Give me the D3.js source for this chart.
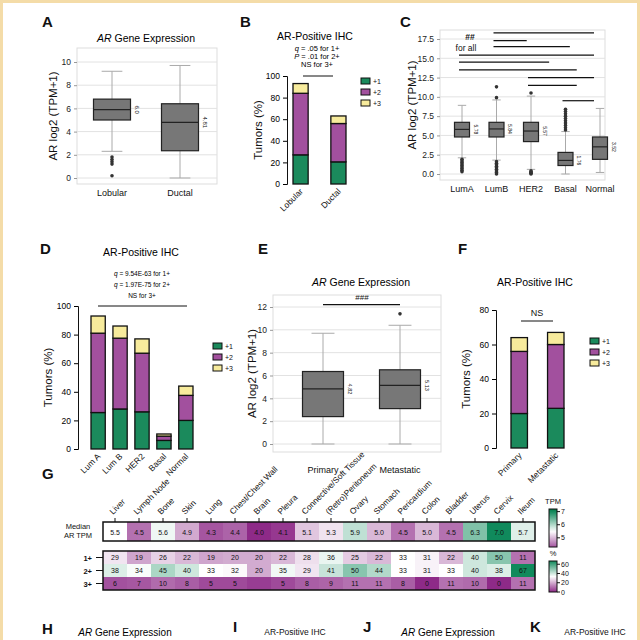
<!DOCTYPE html><html><head><meta charset="utf-8">
<script src="https://cdn.jsdelivr.net/npm/d3@7/dist/d3.min.js"></script>
<style>body{margin:0;background:#fff}svg{font-family:"Liberation Sans",Arial,sans-serif}</style></head><body>
<svg id="c" width="640" height="640"></svg>
<script>
// ---- data ----
const aCats=["Lobular","Ductal"];
const aStats=[{lo:2.3,q1:5.0,med:5.9,q3:6.8,hi:9.2,out:[0.2,1.2,1.4,1.6,1.8],lab:"6.0"},
              {lo:0,q1:2.35,med:4.8,q3:6.4,hi:9.7,out:[],lab:"4.81"}];
const bCats=["Lobular","Ductal"];
const b1=[27,20.5], b2=[57,35.5], b3=[9,7];
const cCats=["LumA","LumB","HER2","Basal","Normal"];
const cStats=[
 {lo:2.1,q1:4.8,med:5.78,q3:6.7,hi:8.9,out:[0.3,0.5,0.7,0.9,1.1,1.3,1.5,1.7,1.9],lab:"5.78"},
 {lo:1.8,q1:4.8,med:5.84,q3:6.7,hi:9.6,out:[0,0.2,0.4,0.6,0.8,1.0,1.2,1.4,1.6,9.9,11.3],lab:"5.84"},
 {lo:0.6,q1:4.2,med:5.57,q3:6.7,hi:10.1,out:[0,0.1,0.2,0.3,0.4,10.5],lab:"5.57"},
 {lo:0,q1:1.1,med:1.76,q3:2.8,hi:5.5,out:[5.7,6.0,6.3,6.6,6.9,7.2,7.5,7.8,8.1,8.4],lab:"1.76"},
 {lo:0.2,q1:1.9,med:3.52,q3:4.8,hi:8.5,out:[],lab:"3.52"}];
const cSig=[[1,4,18.3],[1,2.05,17.3],[1,3.3,16.5],[0,4,15.4],[0,2.7,14.5],[0,3.5,13.5],[2,4,12.5],[2,3.5,11.5],[3,4,9.5]];
const dCats=["Lum A","Lum B","HER2","Basal","Normal"];
const d1=[25.5,28,26,6,20], d2=[55.5,49.5,41,3,17.5], d3v=[12,8.5,10,1.5,6.5];
const eCats=["Primary","Metastatic"];
const eStats=[{lo:0,q1:2.4,med:4.82,q3:6.35,hi:9.7,out:[],lab:"4.82"},
              {lo:0,q1:3.1,med:5.13,q3:6.5,hi:10.4,out:[11.4],lab:"5.13"}];
const fCats=["Primary","Metastatic"];
const f1=[20,23], f2=[36,37], f3=[8,7];
const sites=["Liver","Lymph Node","Bone","Skin","Lung","Chest/Chest Wall","Brain","Pleura","Connective/Soft Tissue","(Retro)Peritoneum","Ovary","Stomach","Pericardium","Colon","Bladder","Uterus","Cervix","Ileum"];
const tpm=[5.5,4.5,5.6,4.9,4.3,4.4,4.0,4.1,5.1,5.3,5.9,5.0,4.5,5.0,4.5,6.3,7.0,5.7];
const pRows=["1+","2+","3+"];
const p1=[29,19,26,22,19,20,20,22,28,36,25,22,33,31,22,40,50,11];
const p2=[38,34,45,40,33,32,20,35,29,41,50,44,33,31,33,40,38,67];
const p3=[6,7,10,8,5,5,null,5,8,9,11,11,8,0,11,10,0,11];
const legendKeys=["+1","+2","+3"];

const GC="#1b8a5c",PC="#a2509e",YC="#f7eb9c";
const svg=d3.select("#c");
svg.append("rect").attr("x",1.5).attr("y",1.5).attr("width",637).attr("height",700).attr("fill","none").attr("stroke","#f4dca8").attr("stroke-width",3);

function txt(x,y,s,o={}){const t=svg.append("text").attr("x",x).attr("y",y).attr("font-size",o.fs||10).attr("text-anchor",o.a||"middle").attr("font-weight",o.fw||"normal").attr("fill",o.c||"#111");if(o.r!=null)t.attr("transform",`rotate(${o.r},${x},${y})`);t.text(s);return t;}
function title(x,y,s,italicAR,fs){const t=svg.append("text").attr("x",x).attr("y",y).attr("font-size",fs||10.5).attr("text-anchor","middle");if(italicAR){t.append("tspan").attr("font-style","italic").text("AR");t.append("tspan").text(" Gene Expression");}else t.text(s);}
function label(x,y,s){txt(x,y,s,{fs:15,fw:"bold",a:"start"});}

function boxPanel(o){
 const g=svg.append("g");
 const y=d3.scaleLinear().domain(o.dom).range([o.y0,o.y1]);
 const x=d3.scalePoint().domain(o.cats).range([o.xa,o.xb]);
 g.append("rect").attr("x",o.bx0).attr("y",o.by0).attr("width",o.bx1-o.bx0).attr("height",o.by1-o.by0).attr("fill","none").attr("stroke","#ddd");
 o.ticks.forEach(t=>{g.append("line").attr("x1",o.bx0).attr("x2",o.bx1).attr("y1",y(t)).attr("y2",y(t)).attr("stroke","#e2e2e2");});
 const ax=g.append("g").attr("transform",`translate(${o.bx0},0)`).call(d3.axisLeft(y).tickValues(o.ticks).tickFormat(o.fmt||d3.format("d")).tickSize(3));
 ax.select(".domain").remove();ax.selectAll("text").attr("font-size",8.5).attr("fill","#222");ax.selectAll("line").attr("stroke","#999");
 o.stats.forEach((s,i)=>{const cx=x(o.cats[i]),w=o.bw;
  g.append("line").attr("x1",cx).attr("x2",cx).attr("y1",y(s.lo)).attr("y2",y(s.hi)).attr("stroke","#aaa");
  [s.lo,s.hi].forEach(v=>g.append("line").attr("x1",cx-w*0.28).attr("x2",cx+w*0.28).attr("y1",y(v)).attr("y2",y(v)).attr("stroke","#aaa"));
  g.append("rect").attr("x",cx-w/2).attr("y",y(s.q3)).attr("width",w).attr("height",y(s.q1)-y(s.q3)).attr("fill","#777").attr("stroke","#222").attr("stroke-width",1.2);
  g.append("line").attr("x1",cx-w/2).attr("x2",cx+w/2).attr("y1",y(s.med)).attr("y2",y(s.med)).attr("stroke","#222").attr("stroke-width",1.2);
  s.out.forEach(v=>g.append("circle").attr("cx",cx).attr("cy",y(v)).attr("r",1.8).attr("fill","#333"));
  const lx=cx+w/2+4,ly=y(s.med);txt(lx,ly,s.lab,{fs:o.lfs||6,r:90,a:"middle"});
  txt(cx,o.catY,o.cats[i],{fs:9});
 });
 txt(o.bx0-o.ylOff,(o.by0+o.by1)/2,"AR log2 (TPM+1)",{fs:11.5,r:-90});
 return {x,y};
}
function stackPanel(o){
 const g=svg.append("g");
 const y=d3.scaleLinear().domain([0,o.max]).range([o.y0,o.y1]);
 const x=d3.scaleBand().domain(o.cats).range([o.xa,o.xb]).paddingInner(o.pad);
 const ax=g.append("g").attr("transform",`translate(${o.axX},0)`).call(d3.axisLeft(y).tickValues(d3.range(0,o.max+1,20)).tickSize(4));
 ax.selectAll("text").attr("font-size",8.5);ax.select(".domain").attr("stroke","#111");
 o.cats.forEach((c,i)=>{let base=0;[[o.s1[i],GC],[o.s2[i],PC],[o.s3[i],YC]].forEach(([v,col])=>{
   g.append("rect").attr("x",x(c)).attr("y",y(base+v)).attr("width",x.bandwidth()).attr("height",y(base)-y(base+v)).attr("fill",col).attr("stroke","#111").attr("stroke-width",1.3);base+=v;});
   const tx=x(c)+x.bandwidth()/2+3,ty=o.y0+8;txt(tx,ty,c,{fs:8.5,a:"end",r:-45});});
 txt(o.axX-o.ylOff,(o.y0+o.y1)/2,"Tumors (%)",{fs:11.5,r:-90});
 legendKeys.forEach((k,i)=>{const col=[GC,PC,YC][i];svg.append("rect").attr("x",o.lx).attr("y",o.ly+i*11-4).attr("width",9).attr("height",6).attr("fill",col).attr("stroke","#111");txt(o.lx+12,o.ly+i*11+2,k,{fs:7,a:"start"});});
 return {x,y};
}

// A
label(42,27,"A");title(146,42,"",true);
boxPanel({cats:aCats,stats:aStats,dom:[0,10],y0:178,y1:62,xa:112,xb:180,bx0:77,bx1:217,by0:48,by1:184,bw:37,ticks:[0,2,4,6,8,10],catY:196,ylOff:20,lfs:6});
// B
label(240,27,"B");title(315,40,"AR-Positive IHC");
[["q"," = .05 for 1+"],["P"," = .01 for 2+"],["","NS for 3+"]].forEach((a,i)=>{const t=svg.append("text").attr("x",317).attr("y",51+i*8).attr("font-size",7.5).attr("text-anchor","middle");if(a[0])t.append("tspan").attr("font-style","italic").text(a[0]);t.append("tspan").text(a[1]);});
svg.append("line").attr("x1",303).attr("x2",333).attr("y1",76).attr("y2",76).attr("stroke","#111");
stackPanel({cats:bCats,s1:b1,s2:b2,s3:b3,max:100,y0:184,y1:76,xa:293,xb:346,pad:0.6,axX:287,ylOff:25,lx:361,ly:82});
// C
label(400,27,"C");
const cp=boxPanel({cats:cCats,stats:cStats,dom:[0,17.5],y0:174,y1:39,xa:462,xb:600,bx0:440,bx1:605,by0:30,by1:180,bw:15,ticks:[0,2.5,5,7.5,10,12.5,15,17.5],fmt:d3.format(".1f"),catY:192,ylOff:24,lfs:5});
cSig.forEach(([a,b,v])=>{const x1=cp.x(cCats[a])-3,x2=d3.interpolate(cp.x(cCats[Math.floor(b)]),cp.x(cCats[Math.min(4,Math.ceil(b))]))(b%1)-6;svg.append("line").attr("x1",x1).attr("x2",x2).attr("y1",cp.y(v)).attr("y2",cp.y(v)).attr("stroke","#111").attr("stroke-width",1.2);});
txt(470,40,"##",{fs:8.5,fw:"bold"});txt(466,51,"for all",{fs:8.5});
// D
label(40,254,"D");title(141,256,"AR-Positive IHC");
[["q"," = 9.54E-63 for 1+"],["q"," = 1.97E-75 for 2+"],["","NS for 3+"]].forEach((a,i)=>{const t=svg.append("text").attr("x",142).attr("y",276+i*11).attr("font-size",6.5).attr("text-anchor","middle");if(a[0])t.append("tspan").attr("font-style","italic").text(a[0]);t.append("tspan").text(a[1]);});
svg.append("line").attr("x1",98).attr("x2",187).attr("y1",306).attr("y2",306).attr("stroke","#111");
stackPanel({cats:dCats,s1:d1,s2:d2,s3:d3v,max:100,y0:449,y1:306,xa:91,xb:193,pad:0.35,axX:78,ylOff:26,lx:213,ly:347});
// E
label(258,254,"E");title(361,286,"",true);
const ep=boxPanel({cats:eCats,stats:eStats,dom:[0,12],y0:444,y1:307,xa:323,xb:400,bx0:273,bx1:441,by0:295,by1:452,bw:41,ticks:[0,2,4,6,8,10,12],catY:473,ylOff:17,lfs:5.5});
svg.append("line").attr("x1",ep.x("Primary")).attr("x2",ep.x("Metastatic")).attr("y1",ep.y(12.2)).attr("y2",ep.y(12.2)).attr("stroke","#111").attr("stroke-width",1.2);
txt(362,ep.y(12.6),"###",{fs:8});
// F
label(458,254,"F");title(535,286,"AR-Positive IHC");
svg.append("line").attr("x1",521).attr("x2",553).attr("y1",321).attr("y2",321).attr("stroke","#111");txt(537,316,"NS",{fs:9});
stackPanel({cats:fCats,s1:f1,s2:f2,s3:f3,max:80,y0:448,y1:310,xa:511,xb:564,pad:0.55,axX:496,ylOff:26,lx:590,ly:342});

// G
label(42,479,"G");
const hx=d3.scaleBand().domain(sites).range([103,535]);
const cT=d3.scaleLinear().domain([4,5.5,7]).range(["#8e2a88","#ffffff","#108a5c"]);
const cP=d3.scaleLinear().domain([0,33,67]).range(["#8e2a88","#ffffff","#108a5c"]);
sites.forEach((s,i)=>{
 svg.append("rect").attr("x",hx(s)).attr("y",522).attr("width",hx.bandwidth()).attr("height",19).attr("fill",cT(tpm[i]));
 txt(hx(s)+hx.bandwidth()/2,534.5,tpm[i].toFixed(1),{fs:7});
 const lx=hx(s)+hx.bandwidth()/2-2,ly=515;txt(lx,ly,s,{fs:8.3,a:"start",r:-45});
 svg.append("line").attr("x1",hx(s)+hx.bandwidth()/2).attr("x2",hx(s)+hx.bandwidth()/2).attr("y1",518).attr("y2",522).attr("stroke","#111");
});
svg.append("rect").attr("x",103).attr("y",522).attr("width",432).attr("height",19).attr("fill","none").attr("stroke","#111").attr("stroke-width",1.5);
txt(78,529,"Median",{fs:7.5});txt(78,538,"AR TPM",{fs:7.5});
const hy=d3.scaleBand().domain(pRows).range([551,590]);
[p1,p2,p3].forEach((row,r)=>{sites.forEach((s,i)=>{const v=row[i];
 svg.append("rect").attr("x",hx(s)).attr("y",hy(pRows[r])).attr("width",hx.bandwidth()).attr("height",hy.bandwidth()).attr("fill",cP(v==null?3:v));
 if(v!=null)txt(hx(s)+hx.bandwidth()/2,hy(pRows[r])+hy.bandwidth()/2+2.5,v,{fs:7});});
 txt(92,hy(pRows[r])+hy.bandwidth()/2+3,pRows[r],{fs:7.5,a:"end",fw:"bold"});
 svg.append("line").attr("x1",96).attr("x2",103).attr("y1",hy(pRows[r])+hy.bandwidth()/2).attr("y2",hy(pRows[r])+hy.bandwidth()/2).attr("stroke","#111");
});
svg.append("rect").attr("x",103).attr("y",551).attr("width",432).attr("height",39).attr("fill","none").attr("stroke","#111").attr("stroke-width",1.5);
function cbar(x,y0,y1,sc,dom,ticks,lab,id){
 const grad=svg.append("defs").append("linearGradient").attr("id",id).attr("x1",0).attr("x2",0).attr("y1",1).attr("y2",0);
 d3.range(0,1.01,0.1).forEach(t=>grad.append("stop").attr("offset",t).attr("stop-color",sc(dom[0]+t*(dom[1]-dom[0]))));
 svg.append("rect").attr("x",x).attr("y",y0).attr("width",8).attr("height",y1-y0).attr("fill",`url(#${id})`).attr("stroke","#111");
 const ys=d3.scaleLinear().domain(dom).range([y1,y0]);
 ticks.forEach(t=>{svg.append("line").attr("x1",x+8).attr("x2",x+11).attr("y1",ys(t)).attr("y2",ys(t)).attr("stroke","#111");txt(x+12,ys(t)+2.5,t,{fs:7,a:"start"});});
 txt(x+4,y0-5,lab,{fs:7.5});
}
cbar(549,509,547,cT,[4.3,7.2],[5,6,7],"TPM","gT");
cbar(549,561,592,cP,[0,67],[0,20,40,60],"%","gP");
label(42,634,"H");title(125,636,"",true,10);
label(233,632,"I");txt(295,635,"AR-Positive IHC",{fs:8.5});
label(363,632,"J");title(448,636,"",true,10);
label(530,632,"K");txt(595,635,"AR-Positive IHC",{fs:8.5});
</script></body></html>
